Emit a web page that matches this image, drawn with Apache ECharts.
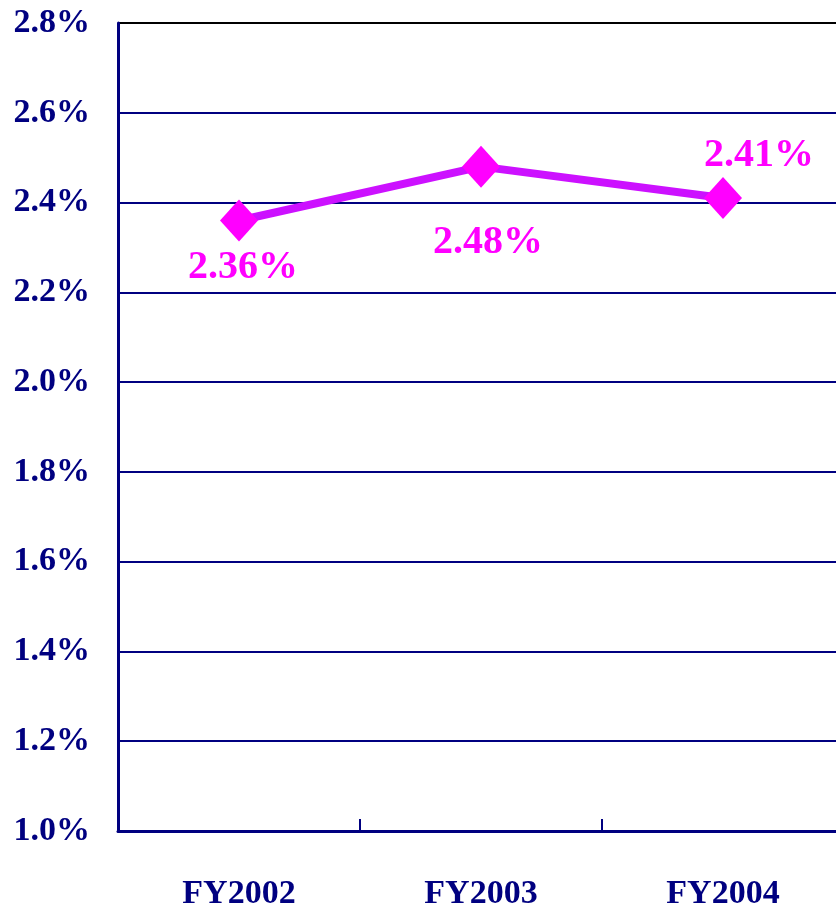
<!DOCTYPE html>
<html>
<head>
<meta charset="utf-8">
<script src="https://cdn.jsdelivr.net/npm/echarts@6/dist/echarts.min.js"></script>
<style>html,body{margin:0;padding:0;background:#fff;}#c{width:836px;height:909px;}</style>
</head>
<body>
<div id="c"></div>
<script>
const categories = ['FY2002', 'FY2003', 'FY2004'];
const values = [2.36, 2.48, 2.41];
const labelOffsets = [[4, 47], [7, 76], [36, -42]];
const yMin = 1.0, yMax = 2.8, yStep = 0.2;

const chart = echarts.init(document.getElementById('c'));
const font = 'Liberation Serif, Times New Roman, serif';
const splitColors = [];
for (let i = 0; i < 9; i++) splitColors.push('#000080');
splitColors.push('#000000');

chart.setOption({
  animation: false,
  backgroundColor: '#ffffff',
  grid: { left: 118, top: 23, right: -8, bottom: 78, containLabel: false, outerBoundsMode: 'none' },
  xAxis: {
    type: 'category',
    data: categories,
    boundaryGap: true,
    axisLine: { show: true, lineStyle: { color: '#000080', width: 3 } },
    axisTick: { show: true, inside: true, length: 12, lineStyle: { color: '#000080', width: 2 } },
    axisLabel: { fontFamily: font, fontWeight: 'bold', fontSize: 34, color: '#000080', margin: 46 },
    splitLine: { show: false }
  },
  yAxis: {
    type: 'value',
    min: yMin, max: yMax, interval: yStep,
    axisLine: { show: true, lineStyle: { color: '#000080', width: 3 } },
    axisTick: { show: false },
    axisLabel: {
      fontFamily: font, fontWeight: 'bold', fontSize: 34, color: '#000080', margin: 28,
      formatter: v => v.toFixed(1) + '%'
    },
    splitLine: { show: true, lineStyle: { color: splitColors, width: 2 } }
  },
  series: [{
    type: 'line',
    data: values.map((v, i) => ({
      value: v,
      label: { offset: labelOffsets[i] }
    })),
    lineStyle: { color: '#CC11FF', width: 8 },
    itemStyle: { color: '#FF00FF' },
    symbol: 'diamond',
    symbolSize: [38, 42],
    label: {
      show: true,
      position: 'inside',
      fontFamily: font, fontWeight: 'bold', fontSize: 40, color: '#FF00FF',
      formatter: p => p.value.toFixed(2) + '%'
    }
  }]
});
</script>
</body>
</html>
